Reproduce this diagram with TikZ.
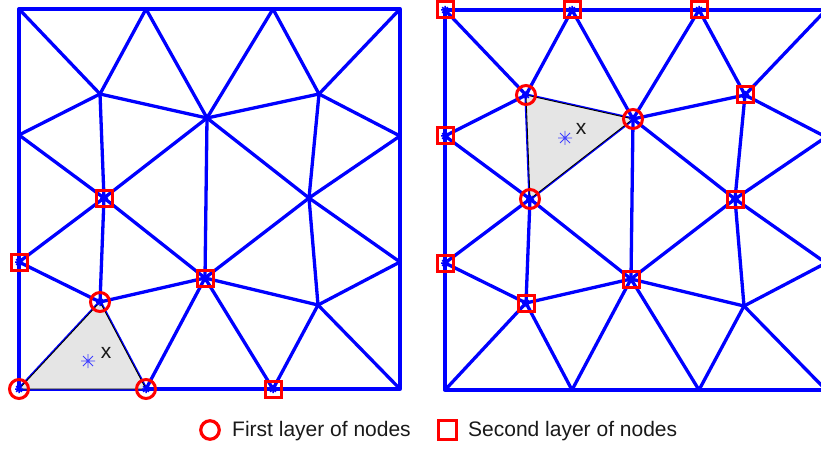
\documentclass[tikz,border=0pt]{standalone}
\usepackage{fontspec}
\setmainfont{Liberation Sans}
\definecolor{meshblue}{RGB}{0,0,255}
\definecolor{elemgray}{RGB}{229,229,229}
\tikzset{
  meshedge/.style={draw=meshblue, line width=3.3pt, line cap=round, line join=round},
  elem/.style={fill=elemgray, draw=black, line width=0.9pt, line join=round},
  firstmark/.style={draw=red, line width=3pt, circle, minimum size=19pt, inner sep=0pt},
  secondmark/.style={draw=red, line width=3pt, rectangle, minimum size=16pt, inner sep=0pt},
  legfirst/.style={draw=red, line width=3.2pt, circle, minimum size=18.5pt, inner sep=0pt},
  legsecond/.style={draw=red, line width=3.2pt, rectangle, minimum size=18.5pt, inner sep=0pt},
  lbl/.style={font=\fontsize{21}{24}\selectfont, inner sep=0pt, text=black!90},
  nodeast/.pic={\draw[meshblue, line width=1.5pt] (-4,0)--(4,0) (0,-4)--(0,4) (-2.8,-2.8)--(2.8,2.8) (-2.8,2.8)--(2.8,-2.8);},
  ptast/.pic={\draw[meshblue!75, line width=0.9pt] (-7,0)--(7,0) (0,-7)--(0,7) (-5,-5)--(5,5) (-5,5)--(5,-5);}
}
\newcommand{\meshcoords}[1]{%
  \coordinate (#1TL) at (19,9);   \coordinate (#1T1) at (146,9);
  \coordinate (#1T2) at (273,9);  \coordinate (#1TR) at (400,9);
  \coordinate (#1L1) at (19,135); \coordinate (#1L2) at (19,262);
  \coordinate (#1R1) at (400,136);\coordinate (#1R2) at (400,262);
  \coordinate (#1BL) at (19,389); \coordinate (#1B1) at (146,389);
  \coordinate (#1B2) at (273,389);\coordinate (#1BR) at (400,389);
  \coordinate (#1A) at (100,94);  \coordinate (#1B) at (207,118);
  \coordinate (#1C) at (319,94);  \coordinate (#1S) at (104,198);
  \coordinate (#1D) at (309,198); \coordinate (#1P) at (205,278);
  \coordinate (#1Q) at (100,302); \coordinate (#1E) at (318,305);
}
\newcommand{\meshedges}[1]{%
  \draw[meshedge] (#1TL) -- (#1T1) -- (#1T2) -- (#1TR) -- (#1R1) -- (#1R2) -- (#1BR)
    -- (#1B2) -- (#1B1) -- (#1BL) -- (#1L2) -- (#1L1) -- cycle;
  \foreach \a/\b in {TL/A,T1/A,T1/B,T2/B,T2/C,TR/C,L1/A,L1/S,A/B,A/S,B/C,B/D,B/P,B/S,
      C/R1,C/D,D/R1,D/R2,D/E,D/P,S/L2,S/Q,S/P,L2/Q,Q/P,Q/BL,Q/B1,P/B1,P/B2,P/E,
      E/R2,E/B2,E/BR}
    \draw[meshedge] (#1\a) -- (#1\b);
}
\begin{document}
\begin{tikzpicture}[x=1pt,y=-1pt]
\useasboundingbox (0,0) rectangle (821,449);
\fill[white] (0,0) rectangle (821,449);
% ---------------- left mesh ----------------
\begin{scope}
  \meshcoords{l}
\end{scope}
\meshedges{l}
\draw[elem] (lBL) -- (lB1) -- (lQ) -- cycle;
\coordinate (lpt) at (88,361);
\pic at (lpt) {ptast};
\node[lbl] (lx) at (106,353) {x};
\foreach \n in {Q,BL,B1,S,L2,P,B2} \pic at (l\n) {nodeast};
\foreach \n in {Q,BL,B1} \node[firstmark] (lf\n) at (l\n) {};
\foreach \n in {S,L2,P,B2} \node[secondmark] (ls\n) at (l\n) {};
% ---------------- right mesh ----------------
\begin{scope}
  \clip (0,0) rectangle (821,449);
  \begin{scope}[shift={(426,1)}]
    \meshcoords{r}
  \end{scope}
  \meshedges{r}
  \draw[elem] (rA) -- (rB) -- (rS) -- cycle;
  \coordinate (rpt) at (565,138);
  \pic at (rpt) {ptast};
  \node[lbl] (rx) at (581,129) {x};
  \foreach \n in {A,B,S,TL,T1,T2,L1,L2,C,D,P,Q} \pic at (r\n) {nodeast};
  \foreach \n in {A,B,S} \node[firstmark] (rf\n) at (r\n) {};
  \foreach \n in {TL,T1,T2,L1,L2,C,D,P,Q} \node[secondmark] (rs\n) at (r\n) {};
\end{scope}
% ---------------- legend ----------------
\node[legfirst] (leg1) at (210,430) {};
\node[lbl, anchor=base west] (leg1t) at (232,436) {First layer of nodes};
\node[legsecond] (leg2) at (447.5,430) {};
\node[lbl, anchor=base west] (leg2t) at (468,436) {Second layer of nodes};
\end{tikzpicture}
\end{document}
